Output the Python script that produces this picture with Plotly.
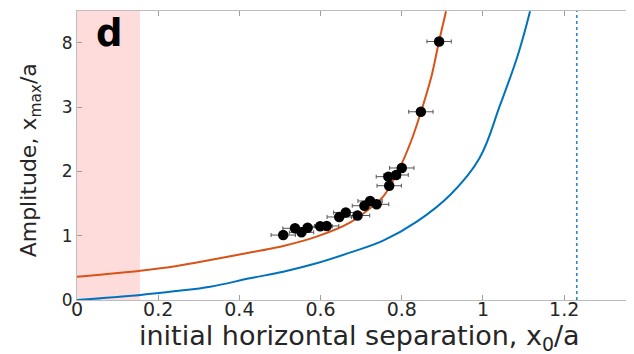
import plotly.graph_objects as go

# ---- data ----
exp_x = [0.508, 0.537, 0.553, 0.568, 0.599, 0.615, 0.646, 0.662, 0.691, 0.708,
         0.722, 0.738, 0.769, 0.767, 0.786, 0.800, 0.847, 0.892]
exp_y = [1.01, 1.115, 1.052, 1.124, 1.146, 1.151, 1.291, 1.361, 1.314, 1.466,
         1.540, 1.488, 1.777, 1.918, 1.944, 2.053, 2.927, 8.1]
exp_xerr = [0.03] * len(exp_x)

orange_x = [0.000, 0.156, 0.246, 0.328, 0.420, 0.508, 0.590, 0.672, 0.754,
            0.796, 0.824, 0.847, 0.874, 0.892, 0.909]
orange_y = [0.363, 0.456, 0.529, 0.622, 0.730, 0.84, 0.985, 1.202, 1.607,
            2.07, 2.488, 2.92, 5.5, 8.15, 10.45]

blue_x = [0.000, 0.156, 0.246, 0.328, 0.426, 0.508, 0.590, 0.672, 0.754, 0.837,
          0.919, 0.991, 1.042, 1.086, 1.116]
blue_y = [0.0, 0.078, 0.14, 0.207, 0.337, 0.44, 0.571, 0.736, 0.922, 1.218,
          1.633, 2.20, 3.15, 7.05, 10.45]

band_x = [0.0, 0.155]
critical_x = 1.231

y_tick_vals = [0, 1, 2, 3, 8]
y_tick_text = ["0", "1", "2", "3", "8"]
x_tick_vals = [0, 0.2, 0.4, 0.6, 0.8, 1.0, 1.2]
x_tick_text = ["0", "0.2", "0.4", "0.6", "0.8", "1", "1.2"]


def to_axis(v):
    # broken axis: linear up to 3, compressed 5:1 above 3
    return v if v <= 3 else 3 + (v - 3) / 5.0


ORANGE = "#D95319"
BLUE = "#0072BD"
TXT = "#262626"
FONT = "DejaVu Sans"

fig = go.Figure()

fig.add_shape(type="rect", xref="x", yref="paper", x0=band_x[0], x1=band_x[1],
              y0=0, y1=1, fillcolor="#FDDCDB", line=dict(width=0), layer="below")
fig.add_shape(type="line", xref="x", yref="paper", x0=critical_x, x1=critical_x,
              y0=0, y1=1, line=dict(color="#2E86C1", width=1.6, dash="3px,3px"))

fig.add_trace(go.Scatter(x=blue_x, y=[to_axis(v) for v in blue_y], mode="lines",
                         line=dict(color=BLUE, width=2, shape="spline", smoothing=1.1),
                         showlegend=False))
fig.add_trace(go.Scatter(x=orange_x, y=[to_axis(v) for v in orange_y], mode="lines",
                         line=dict(color=ORANGE, width=2, shape="spline", smoothing=0.7),
                         showlegend=False))
fig.add_trace(go.Scatter(x=exp_x, y=[to_axis(v) for v in exp_y], mode="markers",
                         marker=dict(color="black", size=10.5),
                         error_x=dict(type="data", array=exp_xerr, color="#555555",
                                      thickness=1, width=2),
                         showlegend=False))

fig.add_annotation(text="<b>d</b>", x=0.059, y=0.923, xref="paper", yref="paper",
                   showarrow=False, xanchor="center", yanchor="middle",
                   font=dict(size=37, color="black", family=FONT))
fig.add_annotation(text="initial horizontal separation, x<sub>0</sub>/a",
                   x=0.508, y=-0.131, xref="paper", yref="paper", showarrow=False,
                   xanchor="center", yanchor="middle",
                   font=dict(size=27, color=TXT, family=FONT))
fig.add_annotation(text="Amplitude, x<sub>max</sub>/a", textangle=-90,
                   x=-0.084, y=0.484, xref="paper", yref="paper", showarrow=False,
                   xanchor="center", yanchor="middle",
                   font=dict(size=22, color=TXT, family=FONT))

# page body has an 8px margin: size/margins chosen so the plot area sits
# at x 77..634, y 11..300 in the 634x354 window
fig.update_layout(
    width=626, height=346,
    margin=dict(l=69, r=0, t=3, b=54),
    plot_bgcolor="white", paper_bgcolor="white",
    font=dict(family=FONT, color=TXT),
    xaxis=dict(range=[0, 1.372], tickvals=x_tick_vals, ticktext=x_tick_text,
               automargin=False, ticklabelstandoff=-8,
               showgrid=False, zeroline=False, showline=True, linecolor="#BDBDBD",
               linewidth=1, mirror="ticks", ticks="inside", ticklen=5,
               tickcolor="#9E9E9E", tickfont=dict(size=19, color=TXT)),
    yaxis=dict(range=[0, 4.494], tickvals=[to_axis(v) for v in y_tick_vals],
               ticktext=y_tick_text, automargin=False,
               showgrid=False, zeroline=False, showline=True, linecolor="#BDBDBD",
               linewidth=1, ticks="inside", ticklen=5, tickcolor="#9E9E9E",
               tickfont=dict(size=17, color=TXT)),
)

fig.write_html("out.html")
